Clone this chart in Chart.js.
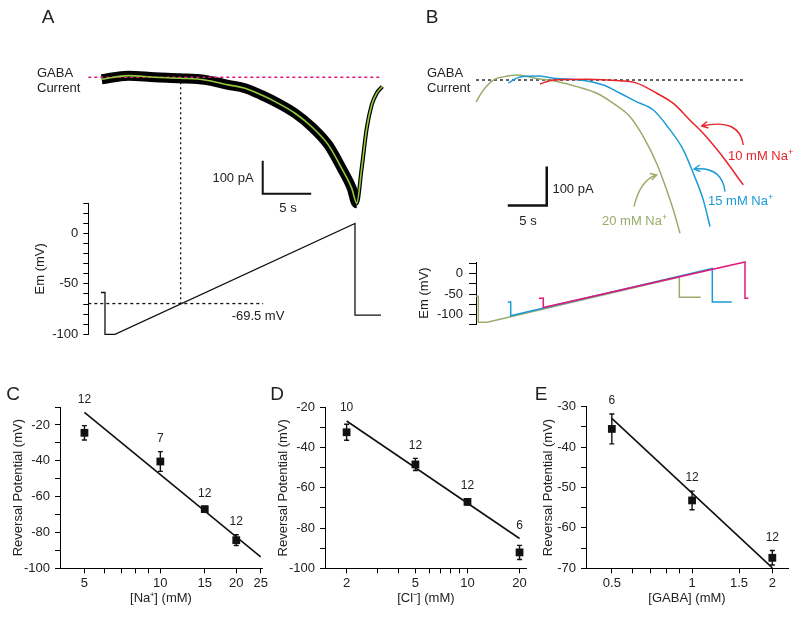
<!DOCTYPE html>
<html>
<head>
<meta charset="utf-8">
<script src="https://cdn.jsdelivr.net/npm/chart.js@4.4.1/dist/chart.umd.min.js"></script>
<style>
  body { margin: 0; background: #fff; }
  #fig { position: relative; width: 800px; height: 619px; overflow: hidden; font-family: "Liberation Sans", Arial, sans-serif; color: #222; }
  #fig canvas { position: absolute; }
  .t { position: absolute; font-size: 13px; line-height: 1; white-space: nowrap; }
  .c { transform: translate(-50%, -50%); }
  .l { transform: translateY(-50%); }
  .p { font-size: 19px; }
  sup { font-size: 9px; vertical-align: 5px; line-height: 0; }
</style>
</head>
<body>
<div id="fig">
  <canvas id="chartA" width="400" height="390" style="left:0;top:0"></canvas>
  <canvas id="chartB" width="400" height="390" style="left:400px;top:0"></canvas>
  <canvas id="chartC" width="270" height="239" style="left:0;top:380px"></canvas>
  <canvas id="chartD" width="270" height="239" style="left:265px;top:380px"></canvas>
  <canvas id="chartE" width="270" height="239" style="left:530px;top:380px"></canvas>

  <div class="t c p" style="left:48px;top:16px">A</div>
  <div class="t c p" style="left:432px;top:16px">B</div>
  <div class="t c p" style="left:13px;top:393px">C</div>
  <div class="t c p" style="left:277px;top:393px">D</div>
  <div class="t c p" style="left:541px;top:393px">E</div>

  <div class="t l" style="left:37px;top:72px">GABA</div>
  <div class="t l" style="left:37px;top:87px">Current</div>
  <div class="t c" style="left:233px;top:177px">100 pA</div>
  <div class="t c" style="left:288px;top:207px">5 s</div>
  <div class="t c" style="left:258px;top:315px">-69.5 mV</div>

  <div class="t l" style="left:427px;top:72px">GABA</div>
  <div class="t l" style="left:427px;top:87px">Current</div>
  <div class="t c" style="left:573px;top:188px">100 pA</div>
  <div class="t c" style="left:528px;top:220px">5 s</div>
  <div class="t l" style="left:728px;top:155px;color:#e8242a">10 mM Na<sup>+</sup></div>
  <div class="t l" style="left:708px;top:200px;color:#1b9ad6">15 mM Na<sup>+</sup></div>
  <div class="t l" style="left:602px;top:220px;color:#9aab6b">20 mM Na<sup>+</sup></div>
</div>
<script>
// panel A: GABA current (pA) against time (s), and the voltage ramp (mV)
const aTime = [-0.34, 2.4, 5.15, 7.73, 10.31, 12.71, 14.43, 16.15, 17.87, 19.59, 21.31, 23.02, 24.4, 25.43, 25.95, 26.46, 26.98, 27.49, 28.01, 28.59];
const aCurrent = [-6, 5, 0, -3, -8, -23, -33, -54, -79, -109, -150, -205, -276, -336, -382, -276, -155, -84, -48, -28];
const aRampTime = [-0.41, 0, 0, 1.03, 25.77, 25.77, 28.45];
const aRampMv = [-58.5, -58.5, -100, -100, 10, -81, -81];
const aReversalMv = -69.5;
const aReversalTime = 7.8;
const aVTicks = [-100, -90, -80, -70, -60, -50, -40, -30, -20, -10, 0, 10, 20, 30];
const aVLabels = [0, -50, -100];

// panel B: currents at 20, 15 and 10 mM Na+
const bTime20 = [-0.29, 0.64, 1.92, 3.21, 4.92, 7.49, 10.05, 12.62, 15.18, 17.31, 19.45, 21.15, 22.87, 24.15, 25.0, 25.86];
const bCur20 = [-56, -26, 0, 8, 13, 4, -4, -17, -34, -60, -94, -145, -214, -282, -333, -393];
const bTime15 = [3.85, 5.35, 7.49, 10.05, 13.04, 16.03, 18.17, 20.31, 22.44, 24.58, 26.28, 27.56, 28.85, 29.71];
const bCur15 = [-8, 8, 10, 4, 0, -13, -34, -56, -77, -128, -179, -239, -308, -376];
const bTime10 = [7.91, 9.62, 13.9, 18.17, 20.31, 22.87, 25.0, 27.14, 28.85, 30.99, 33.97];
const bCur10 = [-10, 0, 2, -2, -8, -34, -60, -103, -137, -188, -269];
const bRampTime20 = [-0.29, 0, 0, 1.15, 25.77, 25.77, 28.5];
const bRampMv20 = [-55, -55, -118, -118, -8.4, -57.5, -57.5];
const bRampTime15 = [3.77, 4.15, 4.15, 30.0, 30.0, 32.49];
const bRampMv15 = [-69, -69, -102, 12.3, -69, -69];
const bRampTime10 = [7.78, 8.33, 8.33, 34.19, 34.19, 34.62];
const bRampMv10 = [-60, -60, -82, 28, -60, -60];
const bVTicks = [-122, -100, -75, -50, -25, 0, 25];
const bVLabels = [0, -50, -100];

// panels C-E: reversal potential (mV, mean +/- sem, n cells) and fits
const naConc = [5, 10, 15, 20];
const naErev = [-24.4, -40.4, -67, -84.3];
const naSem = [4, 5.5, 1.5, 3];
const naN = [12, 7, 12, 12];
const naFitX = [5, 25];
const naFitY = [-13, -93.6];
const naTicks = [5, 6, 7, 8, 9, 10, 15, 20, 25];
const naTickLabels = [5, 10, 15, 20, 25];

const clConc = [2, 5, 10, 20];
const clErev = [-32.4, -48.4, -67, -92.1];
const clSem = [4, 3, 1.5, 3.5];
const clN = [10, 12, 12, 6];
const clFitX = [2, 20];
const clFitY = [-26.8, -85.2];
const clTicks = [2, 3, 4, 5, 6, 7, 8, 9, 10, 20];
const clTickLabels = [2, 5, 10, 20];

const gabaConc = [0.5, 1, 2];
const gabaErev = [-35.5, -53.2, -67.4];
const gabaSem = [3.7, 2.3, 1.8];
const gabaN = [6, 12, 12];
const gabaFitX = [0.5, 2];
const gabaFitY = [-32.9, -69.9];
const gabaTicks = [0.5, 0.6, 0.7, 0.8, 0.9, 1, 1.5, 2];
const gabaTickLabels = [0.5, 1, 1.5, 2];

const RED = '#e8242a', BLUE = '#1b9ad6', OLIVE = '#9aab6b', PINK = '#e0197d', LIME = '#95c93d';

Chart.defaults.font.family = '"Liberation Sans", Arial, sans-serif';
Chart.defaults.font.size = 13;
Chart.defaults.color = '#222';
Chart.defaults.animation = false;
Chart.defaults.plugins.legend.display = false;
Chart.defaults.plugins.tooltip.enabled = false;

const pts = (xs, ys) => xs.map((x, i) => ({ x, y: ys[i] }));
const fixTicks = values => scale => { scale.ticks = values.map(value => ({ value })); };
const labelOnly = shown => v => (shown.includes(v) ? String(v) : '');

const line = (data, color, width, extra) => Object.assign({
  data, showLine: true, borderColor: color, borderWidth: width,
  pointRadius: 0, fill: false, clip: false, tension: 0
}, extra);

const voltAxis = (o) => ({
  type: 'linear', position: 'left', stack: 'v', stackWeight: o.weight,
  min: o.min, max: o.max,
  afterBuildTicks: fixTicks(o.ticks),
  afterFit: s => { s.width = o.width; },
  ticks: { callback: labelOnly(o.labels), autoSkip: false, padding: o.pad },
  grid: { drawOnChartArea: false, tickLength: o.tick, color: '#000' },
  border: { color: '#000' },
  title: { display: true, text: 'Em (mV)', padding: { top: o.titlePad, bottom: 0 } }
});

// current scale sits above the voltage scale in the same column, drawn without marks
const currentAxis = (o) => ({
  type: 'linear', position: 'left', stack: 'v', stackWeight: o.weight,
  min: o.min, max: o.max,
  afterFit: s => { s.width = o.width; },
  ticks: { display: false },
  grid: { display: false },
  border: { display: false }
});

// dotted guide from the current baseline down to the reversal point
const aGuide = {
  id: 'aGuide',
  beforeDatasetsDraw(chart) {
    const { ctx, scales: { x, yI, yV } } = chart;
    const px = x.getPixelForValue(aReversalTime);
    ctx.save();
    ctx.setLineDash([2, 3]);
    ctx.strokeStyle = '#111';
    ctx.lineWidth = 1.3;
    ctx.beginPath();
    ctx.moveTo(px, yI.getPixelForValue(0));
    ctx.lineTo(px, yV.getPixelForValue(aReversalMv));
    ctx.stroke();
    ctx.restore();
  }
};

// the raw recording is a noisy band; it is narrow on the fast recovery after the peak
const bandWidth = ctx => (ctx.p0.parsed.x > 25 && ctx.p1.parsed.y > ctx.p0.parsed.y ? 4 : 10);

new Chart(document.getElementById('chartA'), {
  type: 'scatter',
  data: {
    datasets: [
      line(pts(aTime, aCurrent), LIME, 1.6, { yAxisID: 'yI', order: 1, cubicInterpolationMode: 'monotone' }),
      line([{ x: -1.72, y: 0 }, { x: 28.56, y: 0 }], PINK, 1.5, { yAxisID: 'yI', order: 2, borderDash: [3, 3] }),
      line(pts(aTime, aCurrent), '#000', 10, { yAxisID: 'yI', order: 3, cubicInterpolationMode: 'monotone', borderJoinStyle: 'round', segment: { borderWidth: bandWidth } }),
      line([{ x: 16.26, y: -253 }, { x: 16.26, y: -353 }, { x: 21.26, y: -353 }], '#111', 2, { yAxisID: 'yI', order: 4 }),
      line(pts(aRampTime, aRampMv), '#111', 1.3, { yAxisID: 'yV', order: 5 }),
      line([{ x: -1.72, y: aReversalMv }, { x: 16.3, y: aReversalMv }], '#111', 1.3, { yAxisID: 'yV', order: 6, borderDash: [3, 3] })
    ]
  },
  options: {
    responsive: false,
    layout: { padding: { left: 0, top: 40, right: 10, bottom: 55.7 } },
    scales: {
      x: { type: 'linear', min: -1.72, max: 29.38, display: false },
      yV: voltAxis({ weight: 131, min: -100, max: 30, ticks: aVTicks, labels: aVLabels, width: 88.3, pad: 5, tick: 5, titlePad: 33 }),
      yI: currentAxis({ weight: 163.3, min: -382, max: 113, width: 88.3 })
    }
  },
  plugins: [aGuide]
});

// curved arrows pointing from the labels to the traces (time s, current pA)
const bArrows = [
  { color: RED, from: [33.97, -166.7], via: [33.55, -97.4], to: [28.64, -117.9] },
  { color: BLUE, from: [31.63, -286.4], via: [31.24, -220.5], to: [27.65, -228.2] },
  { color: OLIVE, from: [19.96, -324.9], via: [20.73, -256.4], to: [22.87, -243.6] }
];
const bArrowPlugin = {
  id: 'bArrows',
  afterDatasetsDraw(chart) {
    const { ctx, scales: { x, yI } } = chart;
    const p = ([t, v]) => [x.getPixelForValue(t), yI.getPixelForValue(v)];
    ctx.save();
    ctx.lineWidth = 1.4;
    bArrows.forEach(a => {
      const [x0, y0] = p(a.from), [x1, y1] = p(a.via), [x2, y2] = p(a.to);
      ctx.strokeStyle = a.color;
      ctx.beginPath();
      ctx.moveTo(x0, y0);
      ctx.quadraticCurveTo(x1, y1, x2, y2);
      const ang = Math.atan2(y2 - y1, x2 - x1);
      ctx.moveTo(x2 - 7 * Math.cos(ang - 0.5), y2 - 7 * Math.sin(ang - 0.5));
      ctx.lineTo(x2, y2);
      ctx.lineTo(x2 - 7 * Math.cos(ang + 0.5), y2 - 7 * Math.sin(ang + 0.5));
      ctx.stroke();
    });
    ctx.restore();
  }
};

new Chart(document.getElementById('chartB'), {
  type: 'scatter',
  data: {
    datasets: [
      line(pts(bTime10, bCur10), RED, 1.5, { yAxisID: 'yI', order: 1, cubicInterpolationMode: 'monotone' }),
      line(pts(bTime15, bCur15), BLUE, 1.5, { yAxisID: 'yI', order: 2, cubicInterpolationMode: 'monotone' }),
      line(pts(bTime20, bCur20), OLIVE, 1.5, { yAxisID: 'yI', order: 3, cubicInterpolationMode: 'monotone' }),
      line([{ x: -0.3, y: 0 }, { x: 33.94, y: 0 }], '#111', 1.3, { yAxisID: 'yI', order: 4, borderDash: [3, 3] }),
      line([{ x: 8.77, y: -222 }, { x: 8.77, y: -322 }, { x: 3.77, y: -322 }], '#111', 2.5, { yAxisID: 'yI', order: 5 }),
      line(pts(bRampTime10, bRampMv10), PINK, 1.5, { yAxisID: 'yV', order: 6 }),
      line(pts(bRampTime15, bRampMv15), BLUE, 1.5, { yAxisID: 'yV', order: 7 }),
      line(pts(bRampTime20, bRampMv20), OLIVE, 1.5, { yAxisID: 'yV', order: 8 })
    ]
  },
  options: {
    responsive: false,
    layout: { padding: { left: 0, top: 40, right: 10, bottom: 66 } },
    scales: {
      x: { type: 'linear', min: -0.3, max: 39.96, display: false },
      yV: voltAxis({ weight: 62, min: -122, max: 28, ticks: bVTicks, labels: bVLabels, width: 76, pad: 6, tick: 7, titlePad: 17 }),
      yI: currentAxis({ weight: 222, min: -466.7, max: 102.6, width: 76 })
    }
  },
  plugins: [bArrowPlugin]
});

// error bars and n labels for the reversal potential plots
const errorBars = o => ({
  id: 'errorBars',
  afterDatasetsDraw(chart) {
    const { ctx, scales: { x, y } } = chart;
    const fit = chart.getDatasetMeta(1).data;
    ctx.save();
    ctx.strokeStyle = '#111';
    ctx.lineWidth = 1.4;
    ctx.fillStyle = '#222';
    ctx.font = '12px "Liberation Sans", Arial, sans-serif';
    ctx.textAlign = 'center';
    ctx.textBaseline = 'middle';
    o.conc.forEach((c, i) => {
      const px = x.getPixelForValue(c);
      const top = y.getPixelForValue(o.erev[i] + o.sem[i]);
      const bot = y.getPixelForValue(o.erev[i] - o.sem[i]);
      ctx.beginPath();
      ctx.moveTo(px, top); ctx.lineTo(px, bot);
      ctx.moveTo(px - 2.5, top); ctx.lineTo(px + 2.5, top);
      ctx.moveTo(px - 2.5, bot); ctx.lineTo(px + 2.5, bot);
      ctx.stroke();
      const f = fit[0], g = fit[1];
      const fitY = f.y + (g.y - f.y) * (px - f.x) / (g.x - f.x);
      ctx.fillText(String(o.n[i]), px, Math.min(top, fitY) - 13);
    });
    ctx.restore();
  }
});

function reversalChart(id, o) {
  return new Chart(document.getElementById(id), {
    type: 'scatter',
    data: {
      datasets: [
        { data: pts(o.conc, o.erev), pointStyle: 'rect', pointRadius: 5.5, backgroundColor: '#111', borderWidth: 0, order: 1, clip: false },
        line(pts(o.fitX, o.fitY), '#111', 1.6, { order: 2 })
      ]
    },
    options: {
      responsive: false,
      layout: { padding: { left: 0, top: o.top, right: o.right, bottom: 0 } },
      scales: {
        x: {
          type: 'logarithmic', min: o.xMin, max: o.xMax,
          afterBuildTicks: fixTicks(o.xTicks),
          afterFit: s => { s.height = 50.7; },
          ticks: { callback: labelOnly(o.xLabels), autoSkip: false, maxRotation: 0, padding: 2 },
          grid: { drawOnChartArea: false, tickLength: 5, color: '#000' },
          border: { color: '#000' },
          title: { display: true, text: o.xTitle, padding: { top: 0, bottom: 12.9 } }
        },
        y: {
          type: 'linear', min: o.yMin, max: o.yMax,
          afterBuildTicks: fixTicks(o.yTicks),
          afterFit: s => { s.width = o.yWidth; },
          ticks: { callback: labelOnly(o.yLabels), autoSkip: false, padding: 5 },
          grid: { drawOnChartArea: false, tickLength: 5, color: '#000' },
          border: { color: '#000' },
          title: { display: true, text: 'Reversal Potential (mV)', padding: { top: 10.2, bottom: 0 } }
        }
      }
    },
    plugins: [errorBars(o)]
  });
}

reversalChart('chartC', {
  conc: naConc, erev: naErev, sem: naSem, n: naN, fitX: naFitX, fitY: naFitY,
  xMin: 4, xMax: 25.3, xTicks: naTicks, xLabels: naTickLabels, xTitle: '[Na\u207A] (mM)',
  yMin: -100, yMax: -10, yTicks: [-100, -90, -80, -70, -60, -50, -40, -30, -20, -10], yLabels: [-100, -80, -60, -40, -20],
  yWidth: 60, top: 27, right: 8
});
reversalChart('chartD', {
  conc: clConc, erev: clErev, sem: clSem, n: clN, fitX: clFitX, fitY: clFitY,
  xMin: 1.5, xMax: 22, xTicks: clTicks, xLabels: clTickLabels, xTitle: '[Cl\u207B] (mM)',
  yMin: -100, yMax: -20, yTicks: [-100, -90, -80, -70, -60, -50, -40, -30, -20], yLabels: [-100, -80, -60, -40, -20],
  yWidth: 60, top: 27.3, right: 8.3
});
reversalChart('chartE', {
  conc: gabaConc, erev: gabaErev, sem: gabaSem, n: gabaN, fitX: gabaFitX, fitY: gabaFitY,
  xMin: 0.4, xMax: 2.29, xTicks: gabaTicks, xLabels: gabaTickLabels, xTitle: '[GABA] (mM)',
  yMin: -70, yMax: -30, yTicks: [-70, -65, -60, -55, -50, -45, -40, -35, -30], yLabels: [-70, -60, -50, -40, -30],
  yWidth: 56, top: 26.7, right: 12
});
</script>
</body>
</html>
